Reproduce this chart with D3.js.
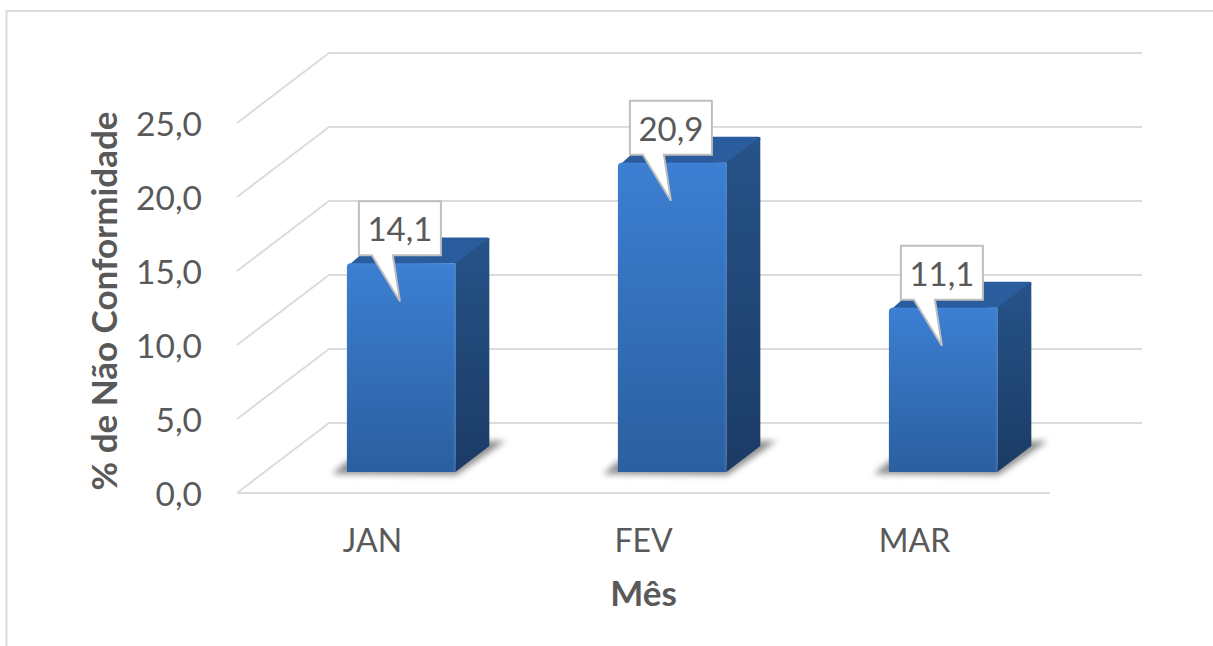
<!DOCTYPE html>
<html>
<head>
<meta charset="utf-8">
<script src="https://cdn.jsdelivr.net/npm/d3@7"></script>
<style>
  html, body { margin: 0; padding: 0; background: #fff; }
  svg { display: block; font-family: Lato, "Open Sans", sans-serif; }
</style>
</head>
<body>
<svg id="chart" width="1213" height="646"></svg>
<script>
var months = ["JAN", "FEV", "MAR"];
var values = [14.1, 20.9, 11.1];
var labels = ["14,1", "20,9", "11,1"];
var yTicks = [0, 5, 10, 15, 20, 25];

var width = 1213, height = 646;
var svg = d3.select("#chart");

// front plane of the 3D box
var x = d3.scaleBand().domain(months).range([237, 1050]).paddingInner(0.6).paddingOuter(0.3);
var y = d3.scaleLinear().domain([0, 25]).range([493, 123]);
// how far back a thing sits: 0 = front edge of floor, 1 = back wall
var depthX = d3.scaleLinear().domain([0, 1]).range([0, 92]);
var depthY = d3.scaleLinear().domain([0, 1]).range([0, -70]);
var fmt = function(d) { return d.toFixed(1).replace(".", ","); };

var defs = svg.append("defs");

function grad(id, stops) {
  var g = defs.append("linearGradient").attr("id", id)
    .attr("x1", 0).attr("y1", 0).attr("x2", 0).attr("y2", 1);
  stops.forEach(function(s) {
    g.append("stop").attr("offset", s[0]).attr("stop-color", s[1]);
  });
}
grad("front", [[0, "#3c7fd3"], [1, "#2b5f9f"]]);
grad("side", [[0, "#265388"], [1, "#1b3b65"]]);
defs.append("filter").attr("id", "blur").attr("x", "-20%").attr("y", "-50%").attr("width", "140%").attr("height", "200%")
  .append("feGaussianBlur").attr("stdDeviation", 3);

// outer frame, only left and top edges show in the picture
svg.append("path")
  .attr("d", "M6.5,646V11H1213")
  .attr("fill", "none").attr("stroke", "#dcdcdc").attr("stroke-width", 2);

// grid: wall line + side line per tick
var grid = svg.append("g").attr("fill", "none").attr("stroke", "#dcdcdc").attr("stroke-width", 2);
yTicks.forEach(function(t) {
  grid.append("path").attr("d", d3.line()([
    [x.range()[0], y(t)],
    [x.range()[0] + depthX(1), y(t) + depthY(1)],
    [x.range()[1] + depthX(1), y(t) + depthY(1)]
  ]));
});
grid.append("path").attr("d", d3.line()([[x.range()[0], y(0)], [x.range()[1], y(0)]]));

// y tick labels
svg.append("g").selectAll("text").data(yTicks).join("text")
  .attr("x", 202).attr("y", function(d) { return y(d) + 13; })
  .attr("text-anchor", "end").attr("font-size", 33.5).attr("fill", "#595959")
  .text(fmt);

// x tick labels
svg.append("g").selectAll("text").data(months).join("text")
  .attr("x", function(d) { return x(d) + x.bandwidth() / 2; }).attr("y", 552)
  .attr("text-anchor", "middle").attr("font-size", 32).attr("fill", "#595959")
  .text(function(d) { return d; });

// axis titles
svg.append("text").attr("x", 643.5).attr("y", 606)
  .attr("text-anchor", "middle").attr("font-size", 35).attr("font-weight", 700).attr("fill", "#595959")
  .text("Mês");
svg.append("text").attr("transform", "translate(117,301) rotate(-90)")
  .attr("text-anchor", "middle").attr("font-size", 35).attr("font-weight", 700).attr("fill", "#595959")
  .text("% de Não Conformidade");

// bars
var frontDepth = 0.3, barDepth = 0.37;
var dx0 = depthX(frontDepth) + 1, dy0 = depthY(frontDepth);
var dx = depthX(barDepth), dy = depthY(barDepth);

var bars = svg.append("g").selectAll("g").data(months).join("g");

bars.each(function(m, i) {
  var g = d3.select(this);
  var x0 = x(m) + dx0, x1 = x0 + x.bandwidth();
  var yBase = y(0) + dy0;
  var h = y(0) - y(values[i]);
  var yTop = yBase - h;

  // floor shadow
  g.append("path")
    .attr("d", d3.line()([[x0 - 15, yBase + 2], [x1 + 1, yBase + 3], [x1 + dx + 16, yBase + dy - 5], [x1 + dx - 4, yBase + dy - 5], [x1, yBase - 7], [x0 + 2, yBase - 12]]))
    .attr("fill", "#555").attr("opacity", 0.68).attr("filter", "url(#blur)");

  // top
  g.append("path")
    .attr("d", d3.line()([[x0 + 5, yTop + 2], [x0 + dx, yTop + dy + 2], [x1 + dx - 2, yTop + dy + 2], [x1, yTop]]))
    .attr("fill", "#2a5c9e").attr("stroke", "#2a5c9e").attr("stroke-width", 4).attr("stroke-linejoin", "round");
  // side
  g.append("path")
    .attr("d", d3.line()([[x1, yTop], [x1 + dx, yTop + dy], [x1 + dx, yBase + dy], [x1, yBase]]))
    .attr("fill", "url(#side)");
  // front, top corners slightly rounded
  g.append("path")
    .attr("d", "M" + x0 + "," + yBase + "V" + (yTop + 4) + "Q" + x0 + "," + yTop + " " + (x0 + 4) + "," + yTop +
      "H" + x1 + "V" + yBase + "Z")
    .attr("fill", "url(#front)");
  // light bevel along the front edges
  g.append("path")
    .attr("d", d3.line()([[x0 + 3, yTop + 1], [x1 - 1, yTop + 1], [x1 - 1, yBase]]))
    .attr("fill", "none").attr("stroke", "#4a8cdc").attr("stroke-opacity", 0.28).attr("stroke-width", 2);

  // callout with data label
  var bx0 = x0 + 12, bx1 = x0 + 94, by0 = yTop - 62, by1 = yTop - 8;
  var tail = d3.line()([
    [bx0, by0], [bx1, by0], [bx1, by1], [x0 + 46, by1], [x0 + 53, yTop + 38], [x0 + 25, by1], [bx0, by1]
  ]) + "Z";
  g.append("path").attr("d", tail)
    .attr("fill", "#fff").attr("stroke", "#bfbfbf").attr("stroke-width", 2);
  g.append("text")
    .attr("x", (bx0 + bx1) / 2).attr("y", by0 + 40)
    .attr("text-anchor", "middle").attr("font-size", 33).attr("fill", "#595959")
    .text(labels[i]);
});
</script>
</body>
</html>
